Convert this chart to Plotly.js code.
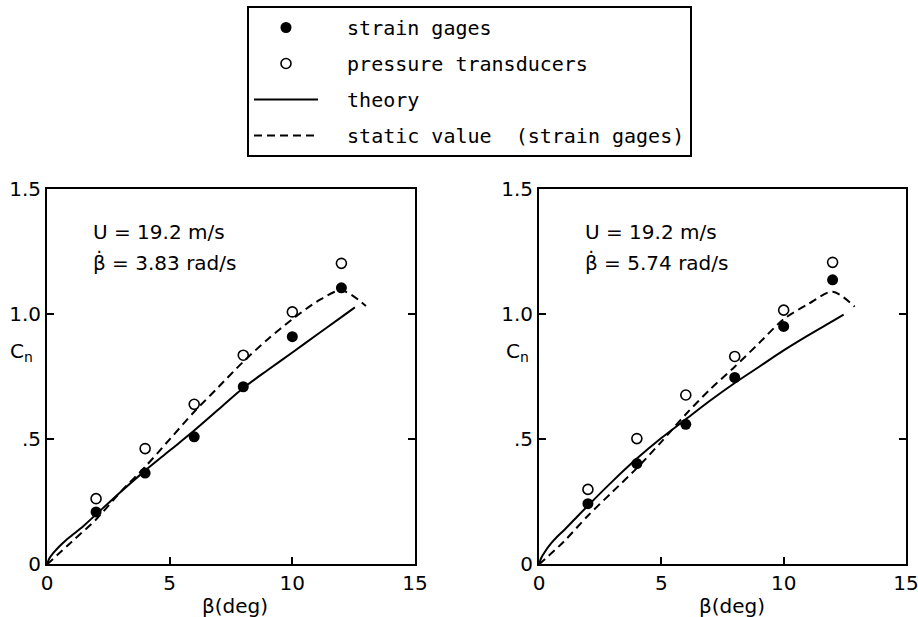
<!DOCTYPE html>
<html>
<head>
<meta charset="utf-8">
<script src="https://cdn.plot.ly/plotly-3.0.1.min.js"></script>
<style>html,body{margin:0;padding:0;background:#fff;}#chart{width:918px;height:617px;}</style>
</head>
<body>
<div id="chart"></div>
<script>
// ---- data ----
const betaPts = [2, 4, 6, 8, 10, 12];
const gagesLeft = [0.21, 0.365, 0.51, 0.71, 0.91, 1.105];
const pressureLeft = [0.263, 0.463, 0.64, 0.836, 1.009, 1.203];
const gagesRight = [0.243, 0.403, 0.56, 0.747, 0.951, 1.137];
const pressureRight = [0.30, 0.503, 0.677, 0.831, 1.016, 1.207];

const theoryBetaLeft = [0, 0.1, 0.25, 0.5, 0.75, 1, 1.5, 2, 3, 4, 5, 6, 7, 8, 9, 10, 11, 12, 12.55];
const theoryLeft = [0, 0.025, 0.045, 0.072, 0.095, 0.115, 0.155, 0.2, 0.29, 0.375, 0.455, 0.535, 0.62, 0.705, 0.777, 0.847, 0.918, 0.988, 1.027];
const staticBetaLeft = [0, 1, 2, 3, 4, 5, 6, 7, 8, 9, 10, 11, 12, 13];
const staticLeft = [0, 0.09, 0.18, 0.29, 0.39, 0.5, 0.61, 0.71, 0.81, 0.9, 0.98, 1.05, 1.095, 1.033];

const theoryBetaRight = [0, 0.1, 0.25, 0.5, 0.75, 1, 1.5, 2, 3, 4, 5, 6, 7, 8, 9, 10, 11, 12, 12.45];
const theoryRight = [0, 0.028, 0.052, 0.085, 0.112, 0.135, 0.185, 0.235, 0.332, 0.423, 0.505, 0.58, 0.655, 0.725, 0.79, 0.855, 0.915, 0.972, 0.998];
const staticBetaRight = [0, 1, 2, 3, 4, 5, 6, 7, 8, 9, 10, 11, 12, 12.9];
const staticRight = [0, 0.09, 0.195, 0.29, 0.385, 0.49, 0.6, 0.7, 0.79, 0.885, 0.98, 1.04, 1.09, 1.03];

const xTickVals = [0, 5, 10, 15];
const xTickText = ['0', '5', '10', '15'];
const yTickVals = [0, 0.5, 1.0, 1.5];
const yTickText = ['0', '.5', '1.0', '1.5'];

const seriesNames = ['strain gages', 'pressure transducers', 'theory', 'static value  (strain gages)'];
const panelLabels = [
  ['U = 19.2 m/s', 'β̇ = 3.83 rad/s'],
  ['U = 19.2 m/s', 'β̇ = 5.74 rad/s']
];

// ---- traces ----
const FONT = 'DejaVu Sans, Liberation Sans, sans-serif';
const MONO = 'DejaVu Sans Mono, Liberation Mono, monospace';
const PAD = '\u00a0\u00a0';
function panelTraces(xa, ya, gages, press, thB, th, stB, st, show) {
  return [
    {x: betaPts, y: gages, xaxis: xa, yaxis: ya, mode: 'markers', name: PAD + seriesNames[0], legendgroup: 'g1', showlegend: show,
     marker: {color: 'black', size: 11, symbol: 'circle'}, cliponaxis: false},
    {x: betaPts, y: press, xaxis: xa, yaxis: ya, mode: 'markers', name: PAD + seriesNames[1], legendgroup: 'g2', showlegend: show,
     marker: {color: 'white', size: 10, symbol: 'circle', line: {color: 'black', width: 1.6}}, cliponaxis: false},
    {x: thB, y: th, xaxis: xa, yaxis: ya, mode: 'lines', name: PAD + seriesNames[2], legendgroup: 'g3', showlegend: show,
     line: {color: 'black', width: 2, shape: 'spline', smoothing: 1}},
    {x: stB, y: st, xaxis: xa, yaxis: ya, mode: 'lines', name: PAD + seriesNames[3], legendgroup: 'g4', showlegend: show,
     line: {color: 'black', width: 2, dash: '8px,5px', shape: 'spline', smoothing: 0.8}}
  ];
}
const data = [].concat(
  panelTraces('x', 'y', gagesLeft, pressureLeft, theoryBetaLeft, theoryLeft, staticBetaLeft, staticLeft, true),
  panelTraces('x2', 'y2', gagesRight, pressureRight, theoryBetaRight, theoryRight, staticBetaRight, staticRight, false)
);

function xAxis(domain, anchor) {
  return {domain: domain, anchor: anchor, range: [0, 15], tickvals: xTickVals, ticktext: xTickText,
    showline: true, linecolor: 'black', linewidth: 2, mirror: true, ticks: 'inside', ticklen: 7, tickwidth: 2,
    tickcolor: 'black', showgrid: false, zeroline: false, fixedrange: true, ticklabeloverflow: 'allow',
    tickfont: {family: FONT, size: 20, color: 'black'}};
}
function yAxis(anchor) {
  return {domain: [0.0851, 0.6937], anchor: anchor, range: [0, 1.5], tickvals: yTickVals, ticktext: yTickText,
    showline: true, linecolor: 'black', linewidth: 2, mirror: 'ticks', ticks: 'inside', ticklen: 7, tickwidth: 2,
    tickcolor: 'black', showgrid: false, zeroline: false, fixedrange: true,
    tickfont: {family: FONT, size: 20, color: 'black'}};
}

const annotations = [];
const panels = [
  {xref: 'x domain', yref: 'y domain', labels: panelLabels[0], cnX: 21, xtitle: 235},
  {xref: 'x2 domain', yref: 'y2 domain', labels: panelLabels[1], cnX: 517, xtitle: 732}
];
panels.forEach(function (p) {
  annotations.push({xref: p.xref, yref: p.yref, x: 0.12, y: 0.885, xanchor: 'left', yanchor: 'middle', showarrow: false,
    text: p.labels[0], font: {family: FONT, size: 20, color: 'black'}});
  annotations.push({xref: p.xref, yref: p.yref, x: 0.12, y: 0.805, xanchor: 'left', yanchor: 'middle', showarrow: false,
    text: p.labels[1], font: {family: FONT, size: 20, color: 'black'}});
  annotations.push({xref: 'paper', yref: 'paper', x: p.cnX / 918, y: 1 - 352 / 617, xanchor: 'center', yanchor: 'middle', showarrow: false,
    text: 'C<sub>n</sub>', font: {family: FONT, size: 20, color: 'black'}});
  annotations.push({xref: 'paper', yref: 'paper', x: p.xtitle / 918, y: 1 - 606 / 617, xanchor: 'center', yanchor: 'middle', showarrow: false,
    text: 'β(deg)', font: {family: FONT, size: 20, color: 'black'}});
});

const layout = {
  width: 918, height: 617,
  margin: {l: 0, r: 0, t: 0, b: 0},
  paper_bgcolor: 'white', plot_bgcolor: 'white',
  font: {family: FONT, size: 20, color: 'black'},
  xaxis: xAxis([47 / 918, 415 / 918], 'y'),
  yaxis: yAxis('x'),
  xaxis2: xAxis([539 / 918, 906 / 918], 'y2'),
  yaxis2: yAxis('x2'),
  showlegend: true,
  legend: {x: 247 / 918, y: 1 - 6 / 617, xanchor: 'left', yanchor: 'top', bordercolor: 'black', borderwidth: 2,
    bgcolor: 'white', font: {family: MONO, size: 20, color: 'black'}, traceorder: 'grouped', tracegroupgap: 7,
    itemwidth: 64, itemclick: false, itemdoubleclick: false},
  annotations: annotations
};

Plotly.newPlot('chart', data, layout, {displayModeBar: false, staticPlot: true});
</script>
</body>
</html>
